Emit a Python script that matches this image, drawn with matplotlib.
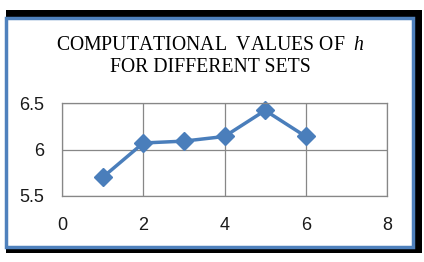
import matplotlib.pyplot as plt
from matplotlib.patches import Rectangle

sets = [1, 2, 3, 4, 5, 6]
h_values = [5.70, 6.07, 6.09, 6.14, 6.42, 6.14]
x_ticks = [0, 2, 4, 6, 8]
y_ticks = [5.5, 6, 6.5]
y_labels = ['5.5', '6', '6.5']

plt.rcParams['mathtext.fontset'] = 'custom'
plt.rcParams['mathtext.it'] = 'Liberation Serif:italic'
plt.rcParams['mathtext.rm'] = 'Liberation Serif'

W, H = 424, 262
fig = plt.figure(figsize=(W / 100, H / 100), dpi=100)
fig.patch.set_facecolor('white')

# shadow frame and blue border (pixel coords -> figure fraction)
def box(x0, y0, x1, y1):
    return x0 / W, 1 - y1 / H, (x1 - x0) / W, (y1 - y0) / H

bx, by, bw, bh = box(6, 10, 422, 253)
fig.patches.append(Rectangle((bx, by), bw, bh, transform=fig.transFigure,
                             facecolor='black', edgecolor='none', zorder=0))
bx, by, bw, bh = box(5.5, 17.5, 412.5, 246.5)
fig.patches.append(Rectangle((bx, by), bw, bh, transform=fig.transFigure,
                             facecolor='white', edgecolor='#4f81bd', linewidth=2.5, zorder=1))

ax = fig.add_axes([62 / W, 1 - 196 / H, (387 - 62) / W, (196 - 103) / H])
ax.set_zorder(2)
ax.plot(sets, h_values, color='#4a7ebb', linewidth=2.5, marker='D', markersize=9,
        markerfacecolor='#4a7ebb', markeredgecolor='#4a7ebb', clip_on=False)
ax.set_xlim(0, 8)
ax.set_ylim(5.5, 6.5)
ax.set_xticks(x_ticks)
ax.set_yticks(y_ticks)
ax.set_yticklabels(y_labels)
ax.grid(True, color='#878787', linewidth=0.9)
ax.set_axisbelow(True)
for s in ax.spines.values():
    s.set_color('#878787')
    s.set_linewidth(0.9)
ax.tick_params(length=0, labelsize=13, colors='#1a1a1a')
ax.tick_params(axis='x', pad=15)
ax.tick_params(axis='y', pad=13)
for lab in ax.get_xticklabels() + ax.get_yticklabels():
    lab.set_family('Liberation Sans')

fig.text(210 / W, 1 - 45 / H, 'COMPUTATIONAL  VALUES OF  $h$', ha='center', va='center',
         fontsize=14.2, family='Liberation Serif', zorder=3)
fig.text(210 / W, 1 - 67 / H, 'FOR DIFFERENT SETS', ha='center', va='center',
         fontsize=14.2, family='Liberation Serif', zorder=3)

fig.savefig('out.png', dpi=100)
